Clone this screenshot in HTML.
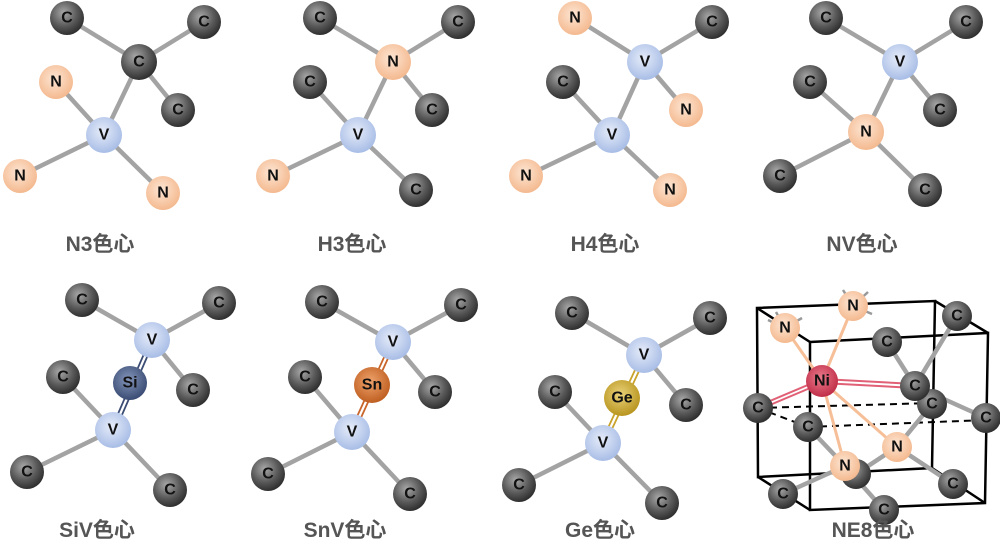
<!DOCTYPE html>
<html><head><meta charset="utf-8"><style>
html,body{margin:0;padding:0;background:#fff;}
svg{display:block;}
.l{font-family:"Liberation Sans","Noto Sans CJK SC",sans-serif;font-weight:bold;font-size:21px;fill:#555;text-anchor:middle;}
.a{font-family:"Liberation Sans",sans-serif;font-weight:bold;font-size:16px;fill:#111;text-anchor:middle;dominant-baseline:central;}
.b{stroke:#a3a3a3;stroke-width:4.5;}
</style></head><body>
<svg width="1000" height="553" viewBox="0 0 1000 553" xmlns="http://www.w3.org/2000/svg">
<defs>
<radialGradient id="gC" cx="40%" cy="35%" r="65%"><stop offset="0" stop-color="#a8a8a8"/><stop offset="0.6" stop-color="#5a5a5a"/><stop offset="1" stop-color="#303030"/></radialGradient>
<radialGradient id="gN" cx="45%" cy="40%" r="60%"><stop offset="0" stop-color="#fde6d4"/><stop offset="1" stop-color="#f4b98f"/></radialGradient>
<radialGradient id="gV" cx="45%" cy="40%" r="60%"><stop offset="0" stop-color="#e6ecf9"/><stop offset="1" stop-color="#a8bde6"/></radialGradient>
<radialGradient id="gSi" cx="45%" cy="40%" r="60%"><stop offset="0" stop-color="#8596bb"/><stop offset="1" stop-color="#3b4c74"/></radialGradient>
<radialGradient id="gSn" cx="45%" cy="40%" r="60%"><stop offset="0" stop-color="#efa36c"/><stop offset="1" stop-color="#bf5f22"/></radialGradient>
<radialGradient id="gGe" cx="45%" cy="40%" r="60%"><stop offset="0" stop-color="#ead27a"/><stop offset="1" stop-color="#b8951f"/></radialGradient>
<radialGradient id="gNi" cx="45%" cy="40%" r="60%"><stop offset="0" stop-color="#ea7a8a"/><stop offset="1" stop-color="#c02e48"/></radialGradient>
</defs>

<!-- Panel 1 N3 -->
<g class="b">
<line x1="67" y1="18" x2="139" y2="62"/><line x1="204" y1="22" x2="139" y2="62"/><line x1="139" y1="62" x2="178" y2="110"/><line x1="139" y1="62" x2="104" y2="135"/>
<line x1="56" y1="82" x2="104" y2="135"/><line x1="20" y1="176" x2="104" y2="135"/><line x1="163" y1="193" x2="104" y2="135"/>
</g>
<circle cx="67" cy="18" r="17" fill="url(#gC)"/><text class="a" x="67" y="18">C</text>
<circle cx="204" cy="22" r="17" fill="url(#gC)"/><text class="a" x="204" y="22">C</text>
<circle cx="139" cy="62" r="18" fill="url(#gC)"/><text class="a" x="139" y="62">C</text>
<circle cx="178" cy="110" r="17" fill="url(#gC)"/><text class="a" x="178" y="110">C</text>
<circle cx="56" cy="82" r="17" fill="url(#gN)"/><text class="a" x="56" y="82">N</text>
<circle cx="104" cy="135" r="18" fill="url(#gV)"/><text class="a" x="104" y="135">V</text>
<circle cx="20" cy="176" r="17" fill="url(#gN)"/><text class="a" x="20" y="176">N</text>
<circle cx="163" cy="193" r="17" fill="url(#gN)"/><text class="a" x="163" y="193">N</text>
<text class="l" x="100" y="251">N3色心</text>

<!-- Panel 2 H3 -->
<g class="b">
<line x1="320" y1="18" x2="393" y2="62"/><line x1="458" y1="22" x2="393" y2="62"/><line x1="393" y1="62" x2="432" y2="110"/><line x1="393" y1="62" x2="358" y2="135"/>
<line x1="310" y1="82" x2="358" y2="135"/><line x1="273" y1="176" x2="358" y2="135"/><line x1="416" y1="190" x2="358" y2="135"/>
</g>
<circle cx="320" cy="18" r="17" fill="url(#gC)"/><text class="a" x="320" y="18">C</text>
<circle cx="458" cy="22" r="17" fill="url(#gC)"/><text class="a" x="458" y="22">C</text>
<circle cx="393" cy="62" r="18" fill="url(#gN)"/><text class="a" x="393" y="62">N</text>
<circle cx="432" cy="110" r="17" fill="url(#gC)"/><text class="a" x="432" y="110">C</text>
<circle cx="310" cy="82" r="17" fill="url(#gC)"/><text class="a" x="310" y="82">C</text>
<circle cx="358" cy="135" r="18" fill="url(#gV)"/><text class="a" x="358" y="135">V</text>
<circle cx="273" cy="176" r="17" fill="url(#gN)"/><text class="a" x="273" y="176">N</text>
<circle cx="416" cy="190" r="17" fill="url(#gC)"/><text class="a" x="416" y="190">C</text>
<text class="l" x="352" y="251">H3色心</text>

<!-- Panel 3 H4 -->
<g class="b">
<line x1="575" y1="18" x2="645" y2="62"/><line x1="712" y1="22" x2="645" y2="62"/><line x1="645" y1="62" x2="686" y2="110"/><line x1="645" y1="62" x2="612" y2="135"/>
<line x1="563" y1="82" x2="612" y2="135"/><line x1="526" y1="176" x2="612" y2="135"/><line x1="670" y1="190" x2="612" y2="135"/>
</g>
<circle cx="575" cy="18" r="17" fill="url(#gN)"/><text class="a" x="575" y="18">N</text>
<circle cx="712" cy="22" r="17" fill="url(#gC)"/><text class="a" x="712" y="22">C</text>
<circle cx="645" cy="62" r="18" fill="url(#gV)"/><text class="a" x="645" y="62">V</text>
<circle cx="686" cy="110" r="17" fill="url(#gN)"/><text class="a" x="686" y="110">N</text>
<circle cx="563" cy="82" r="17" fill="url(#gC)"/><text class="a" x="563" y="82">C</text>
<circle cx="612" cy="135" r="18" fill="url(#gV)"/><text class="a" x="612" y="135">V</text>
<circle cx="526" cy="176" r="17" fill="url(#gN)"/><text class="a" x="526" y="176">N</text>
<circle cx="670" cy="190" r="17" fill="url(#gN)"/><text class="a" x="670" y="190">N</text>
<text class="l" x="605" y="251">H4色心</text>

<!-- Panel 4 NV -->
<g class="b">
<line x1="826" y1="18" x2="900" y2="62"/><line x1="966" y1="22" x2="900" y2="62"/><line x1="900" y1="62" x2="940" y2="110"/><line x1="900" y1="62" x2="866" y2="132"/>
<line x1="810" y1="82" x2="866" y2="132"/><line x1="780" y1="176" x2="866" y2="132"/><line x1="925" y1="190" x2="866" y2="132"/>
</g>
<circle cx="826" cy="18" r="17" fill="url(#gC)"/><text class="a" x="826" y="18">C</text>
<circle cx="966" cy="22" r="17" fill="url(#gC)"/><text class="a" x="966" y="22">C</text>
<circle cx="900" cy="62" r="18" fill="url(#gV)"/><text class="a" x="900" y="62">V</text>
<circle cx="940" cy="110" r="17" fill="url(#gC)"/><text class="a" x="940" y="110">C</text>
<circle cx="810" cy="82" r="17" fill="url(#gC)"/><text class="a" x="810" y="82">C</text>
<circle cx="866" cy="132" r="18" fill="url(#gN)"/><text class="a" x="866" y="132">N</text>
<circle cx="780" cy="176" r="17" fill="url(#gC)"/><text class="a" x="780" y="176">C</text>
<circle cx="925" cy="190" r="17" fill="url(#gC)"/><text class="a" x="925" y="190">C</text>
<text class="l" x="862" y="251">NV色心</text>

<!-- Panel 5 SiV -->
<g class="b">
<line x1="82" y1="300" x2="152" y2="340"/><line x1="219" y1="303" x2="152" y2="340"/><line x1="152" y1="340" x2="193" y2="390"/>
<line x1="63" y1="377" x2="113" y2="430"/><line x1="27" y1="472" x2="113" y2="430"/><line x1="170" y1="490" x2="113" y2="430"/>
</g>
<g stroke="#3b4c74" stroke-width="1.8"><line x1="150" y1="340" x2="111" y2="430"/><line x1="154" y1="341" x2="115" y2="431"/></g>
<circle cx="82" cy="300" r="17" fill="url(#gC)"/><text class="a" x="82" y="300">C</text>
<circle cx="219" cy="303" r="17" fill="url(#gC)"/><text class="a" x="219" y="303">C</text>
<circle cx="152" cy="340" r="18" fill="url(#gV)"/><text class="a" x="152" y="340">V</text>
<circle cx="193" cy="390" r="17" fill="url(#gC)"/><text class="a" x="193" y="390">C</text>
<circle cx="130" cy="383" r="17" fill="url(#gSi)"/><text class="a" x="130" y="383">Si</text>
<circle cx="63" cy="377" r="17" fill="url(#gC)"/><text class="a" x="63" y="377">C</text>
<circle cx="113" cy="430" r="18" fill="url(#gV)"/><text class="a" x="113" y="430">V</text>
<circle cx="27" cy="472" r="17" fill="url(#gC)"/><text class="a" x="27" y="472">C</text>
<circle cx="170" cy="490" r="17" fill="url(#gC)"/><text class="a" x="170" y="490">C</text>
<text class="l" x="97" y="537">SiV色心</text>

<!-- Panel 6 SnV -->
<g class="b">
<line x1="322" y1="302" x2="393" y2="342"/><line x1="461" y1="305" x2="393" y2="342"/><line x1="393" y1="342" x2="435" y2="392"/>
<line x1="305" y1="377" x2="352" y2="432"/><line x1="268" y1="474" x2="352" y2="432"/><line x1="410" y1="494" x2="352" y2="432"/>
</g>
<g stroke="#c8652a" stroke-width="1.8"><line x1="391" y1="342" x2="350" y2="432"/><line x1="395" y1="343" x2="354" y2="433"/></g>
<circle cx="322" cy="302" r="17" fill="url(#gC)"/><text class="a" x="322" y="302">C</text>
<circle cx="461" cy="305" r="17" fill="url(#gC)"/><text class="a" x="461" y="305">C</text>
<circle cx="393" cy="342" r="18" fill="url(#gV)"/><text class="a" x="393" y="342">V</text>
<circle cx="435" cy="392" r="17" fill="url(#gC)"/><text class="a" x="435" y="392">C</text>
<circle cx="372" cy="385" r="18" fill="url(#gSn)"/><text class="a" x="372" y="385">Sn</text>
<circle cx="305" cy="377" r="17" fill="url(#gC)"/><text class="a" x="305" y="377">C</text>
<circle cx="352" cy="432" r="18" fill="url(#gV)"/><text class="a" x="352" y="432">V</text>
<circle cx="268" cy="474" r="17" fill="url(#gC)"/><text class="a" x="268" y="474">C</text>
<circle cx="410" cy="494" r="17" fill="url(#gC)"/><text class="a" x="410" y="494">C</text>
<text class="l" x="345" y="537">SnV色心</text>

<!-- Panel 7 Ge -->
<g class="b">
<line x1="572" y1="313" x2="644" y2="355"/><line x1="710" y1="318" x2="644" y2="355"/><line x1="644" y1="355" x2="686" y2="405"/>
<line x1="555" y1="392" x2="603" y2="443"/><line x1="519" y1="485" x2="603" y2="443"/><line x1="662" y1="503" x2="603" y2="443"/>
</g>
<g stroke="#c9a22a" stroke-width="1.8"><line x1="642" y1="355" x2="601" y2="443"/><line x1="646" y1="356" x2="605" y2="444"/></g>
<circle cx="572" cy="313" r="17" fill="url(#gC)"/><text class="a" x="572" y="313">C</text>
<circle cx="710" cy="318" r="17" fill="url(#gC)"/><text class="a" x="710" y="318">C</text>
<circle cx="644" cy="355" r="18" fill="url(#gV)"/><text class="a" x="644" y="355">V</text>
<circle cx="686" cy="405" r="17" fill="url(#gC)"/><text class="a" x="686" y="405">C</text>
<circle cx="622" cy="398" r="18" fill="url(#gGe)"/><text class="a" x="622" y="398">Ge</text>
<circle cx="555" cy="392" r="17" fill="url(#gC)"/><text class="a" x="555" y="392">C</text>
<circle cx="603" cy="443" r="18" fill="url(#gV)"/><text class="a" x="603" y="443">V</text>
<circle cx="519" cy="485" r="17" fill="url(#gC)"/><text class="a" x="519" y="485">C</text>
<circle cx="662" cy="503" r="17" fill="url(#gC)"/><text class="a" x="662" y="503">C</text>
<text class="l" x="600" y="537">Ge色心</text>

<!-- Panel 8 NE8 -->
<g stroke="#000" stroke-width="2.5" fill="none">
<polygon points="757,308 935,301 932,468 758,477"/>
<polygon points="810,342 988,333 985,503 810,510"/>
<line x1="757" y1="308" x2="810" y2="342"/><line x1="935" y1="301" x2="988" y2="333"/>
<line x1="932" y1="468" x2="985" y2="503"/><line x1="758" y1="477" x2="810" y2="510"/>
</g>
<g stroke="#000" stroke-width="2" stroke-dasharray="7,5">
<line x1="758" y1="408" x2="932" y2="403"/><line x1="758" y1="408" x2="808" y2="427"/><line x1="808" y1="427" x2="986" y2="420"/>
</g>
<g stroke="#999" stroke-width="2.5">
<line x1="785" y1="328" x2="768" y2="320"/><line x1="785" y1="328" x2="776" y2="312"/><line x1="785" y1="328" x2="802" y2="318"/>
<line x1="853" y1="306" x2="843" y2="290"/><line x1="853" y1="306" x2="868" y2="292"/><line x1="853" y1="306" x2="872" y2="314"/>
</g>
<g class="b">
<line x1="957" y1="316" x2="915" y2="386"/><line x1="887" y1="342" x2="915" y2="386"/><line x1="915" y1="386" x2="986" y2="418"/>
<line x1="932" y1="404" x2="897" y2="447"/><line x1="897" y1="447" x2="953" y2="484"/><line x1="845" y1="466" x2="884" y2="510"/>
<line x1="845" y1="466" x2="783" y2="494"/><line x1="808" y1="427" x2="845" y2="466"/><line x1="897" y1="447" x2="856" y2="474"/>
</g>
<g stroke="#f6bf98" stroke-width="3">
<line x1="822" y1="381" x2="785" y2="328"/><line x1="822" y1="381" x2="853" y2="306"/><line x1="822" y1="381" x2="897" y2="447"/><line x1="822" y1="381" x2="845" y2="466"/>
</g>
<g stroke="#e06075" stroke-width="2">
<line x1="822" y1="379" x2="915" y2="384"/><line x1="822" y1="383" x2="915" y2="388"/>
<line x1="822" y1="379" x2="758" y2="406"/><line x1="822" y1="383" x2="758" y2="410"/>
</g>
<circle cx="957" cy="316" r="15" fill="url(#gC)"/><text class="a" x="957" y="316">C</text>
<circle cx="887" cy="342" r="15" fill="url(#gC)"/><text class="a" x="887" y="342">C</text>
<circle cx="785" cy="328" r="15" fill="url(#gN)"/><text class="a" x="785" y="328">N</text>
<circle cx="853" cy="306" r="15" fill="url(#gN)"/><text class="a" x="853" y="306">N</text>
<circle cx="932" cy="404" r="15" fill="url(#gC)"/><text class="a" x="932" y="404">C</text>
<circle cx="915" cy="386" r="15" fill="url(#gC)"/><text class="a" x="915" y="386">C</text>
<circle cx="986" cy="418" r="15" fill="url(#gC)"/><text class="a" x="986" y="418">C</text>
<circle cx="758" cy="408" r="15" fill="url(#gC)"/><text class="a" x="758" y="408">C</text>
<circle cx="808" cy="427" r="15" fill="url(#gC)"/><text class="a" x="808" y="427">C</text>
<circle cx="822" cy="381" r="16" fill="url(#gNi)"/><text class="a" x="822" y="381">Ni</text>
<circle cx="856" cy="474" r="15" fill="url(#gC)"/>
<circle cx="897" cy="447" r="15" fill="url(#gN)"/><text class="a" x="897" y="447">N</text>
<circle cx="845" cy="466" r="15" fill="url(#gN)"/><text class="a" x="845" y="466">N</text>
<circle cx="783" cy="494" r="15" fill="url(#gC)"/><text class="a" x="783" y="494">C</text>
<circle cx="953" cy="484" r="15" fill="url(#gC)"/><text class="a" x="953" y="484">C</text>
<circle cx="884" cy="510" r="15" fill="url(#gC)"/><text class="a" x="884" y="510">C</text>
<text class="l" x="873" y="537">NE8色心</text>
</svg>
</body></html>
